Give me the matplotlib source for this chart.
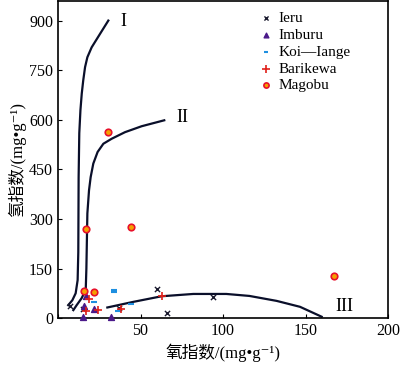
import matplotlib
matplotlib.use("Agg")
import matplotlib.pyplot as plt
import numpy as np

plt.rcParams['font.family'] = ['Liberation Serif', 'Noto Sans CJK SC', 'DejaVu Sans']

# Sample data (oxygen index, hydrogen index)
ieru_x = [7, 15, 60, 66, 94, 37]
ieru_y = [36, 28, 87, 16, 63, 30]
imburu_x = [17, 16, 22, 15, 32]
imburu_y = [66, 38, 26, 4, 4]
koi_x = [34, 34, 22, 44, 36.5]
koi_y = [86, 80, 48, 42, 20]
barik_x = [19, 17, 24, 38, 63]
barik_y = [57, 22, 24, 27, 66]
mago_x = [17, 16, 22, 44, 30, 167]
mago_y = [269, 83, 80, 275, 565, 128]

# Kerogen type boundary curves
c1_x = [6.2, 8.7, 10.7, 11.9, 12.3, 12.5, 12.9, 13.6, 14.4, 15.3, 16.4, 17.8, 20.4, 25.5, 30.5]
c1_y = [39, 54, 75, 115, 200, 427, 560, 630, 680, 720, 760, 790, 820, 861, 901]
c2_x = [9.3, 11.3, 14.3, 16.8, 17.2, 17.8, 18.8, 19.8, 21.4, 24.0, 27.5, 32.5, 40.6, 50.7, 64.4]
c2_y = [24, 39, 60, 85, 150, 317, 387, 427, 468, 503, 528, 543, 563, 581, 599]
c3_x = [29.9, 45.6, 62.8, 82, 102, 116, 132.5, 146.7, 159.8]
c3_y = [32, 49, 66, 73, 73, 67, 52, 34, 4]

fig = plt.figure(figsize=(4, 3.66), dpi=100)
ax = fig.add_axes([0.145, 0.131, 0.825, 0.866])

for cx, cy in [(c1_x, c1_y), (c2_x, c2_y), (c3_x, c3_y)]:
    ax.plot(cx, cy, color='#0a0f2a', lw=1.6, solid_joinstyle='round')

ax.text(37.6, 885, 'I', fontsize=13)
ax.text(72, 595, 'II', fontsize=13)
ax.text(168, 22, 'III', fontsize=13)

ax.scatter(ieru_x, ieru_y, marker='x', s=14, color='#1a1a2e', lw=1, label='Ieru', zorder=3)
ax.scatter(imburu_x, imburu_y, marker='^', s=18, color='#4b1a8a', label='Imburu', zorder=3, clip_on=False)
ax.scatter(koi_x, koi_y, marker='_', s=16, color='#1e8fe0', lw=1.5, label='Koi\u2014Iange', zorder=3)
ax.scatter(barik_x, barik_y, marker='+', s=40, color='#e0201a', lw=1.2, label='Barikewa', zorder=4)
ax.scatter(mago_x, mago_y, marker='o', s=22, facecolor='#f5a000', edgecolor='#e8102a', lw=1.2, label='Magobu', zorder=4)

ax.set_xlim(0, 200)
ax.set_ylim(0, 960)
ax.set_xticks([0, 50, 100, 150, 200])
ax.set_xticklabels(['', '50', '100', '150', '200'])
ax.set_yticks([0, 150, 300, 450, 600, 750, 900])
ax.tick_params(direction='in', labelsize=11.5, length=3)
for s in ax.spines.values():
    s.set_linewidth(1.2)

ax.set_xlabel('氧指数/(mg•g\u207b\u00b9)', fontsize=12, labelpad=3)
ax.set_ylabel('氢指数/(mg•g\u207b\u00b9)', fontsize=12, labelpad=2)

ax.legend(loc='upper left', bbox_to_anchor=(0.58, 1.0), frameon=False, fontsize=11,
          handlelength=0.8, handletextpad=0.4, labelspacing=0.2, borderaxespad=0.3,
          markerscale=0.8)

fig.savefig('out.png', dpi=100)
